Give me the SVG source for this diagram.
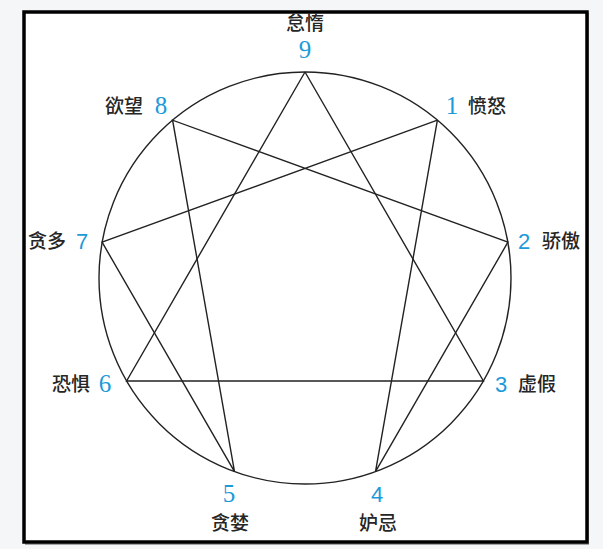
<svg xmlns="http://www.w3.org/2000/svg" width="603" height="549" viewBox="0 0 603 549">
<style>
.cn{font-family:"Noto Sans CJK SC","Noto Sans",sans-serif;font-size:19px;fill:#262626;font-weight:500}
.ns{font-family:"Liberation Serif",serif;font-size:25px;fill:#1c9ad8}
.nn{font-family:"Liberation Sans",sans-serif;font-size:22px;fill:#1c9ad8}
.ln{stroke:#222;stroke-width:1.4;fill:none}
</style>
<rect x="0" y="0" width="603" height="549" fill="#f5f6f8"/>
<rect x="25" y="13" width="564" height="532" fill="#555" opacity="0.5"/>
<rect x="24" y="12" width="563" height="530" fill="#fff" stroke="#000" stroke-width="3.5"/>
<g id="circle"><circle class="ln" cx="305" cy="278" r="206"/></g>
<g id="connectors" class="ln">
<polyline points="305,72 483.4,381 126.6,381 305,72"/>
<polyline points="437.4,120.2 375.5,471.6 507.9,242.2 172.6,120.2 234.5,471.6 102.1,242.2 437.4,120.2"/>
</g>
<g id="n9"><text class="cn" x="305" y="30" text-anchor="middle">怠惰</text><text class="ns" x="305" y="58" text-anchor="middle">9</text></g>
<g id="n1"><text class="ns" x="452" y="114" text-anchor="middle">1</text><text class="cn" x="468" y="113">愤怒</text></g>
<g id="n2"><text class="nn" x="524" y="249" text-anchor="middle">2</text><text class="cn" x="542" y="248">骄傲</text></g>
<g id="n3"><text class="nn" x="501" y="392" text-anchor="middle">3</text><text class="cn" x="518" y="391">虚假</text></g>
<g id="n4"><text class="nn" x="377" y="502" text-anchor="middle">4</text><text class="cn" x="378" y="530" text-anchor="middle">妒忌</text></g>
<g id="n5"><text class="ns" x="229" y="502" text-anchor="middle">5</text><text class="cn" x="230" y="530" text-anchor="middle">贪婪</text></g>
<g id="n6"><text class="ns" x="105" y="392" text-anchor="middle">6</text><text class="cn" x="90" y="391" text-anchor="end">恐惧</text></g>
<g id="n7"><text class="nn" x="82" y="249" text-anchor="middle">7</text><text class="cn" x="66" y="248" text-anchor="end">贪多</text></g>
<g id="n8"><text class="ns" x="161" y="114" text-anchor="middle">8</text><text class="cn" x="143" y="113" text-anchor="end">欲望</text></g>
</svg>
